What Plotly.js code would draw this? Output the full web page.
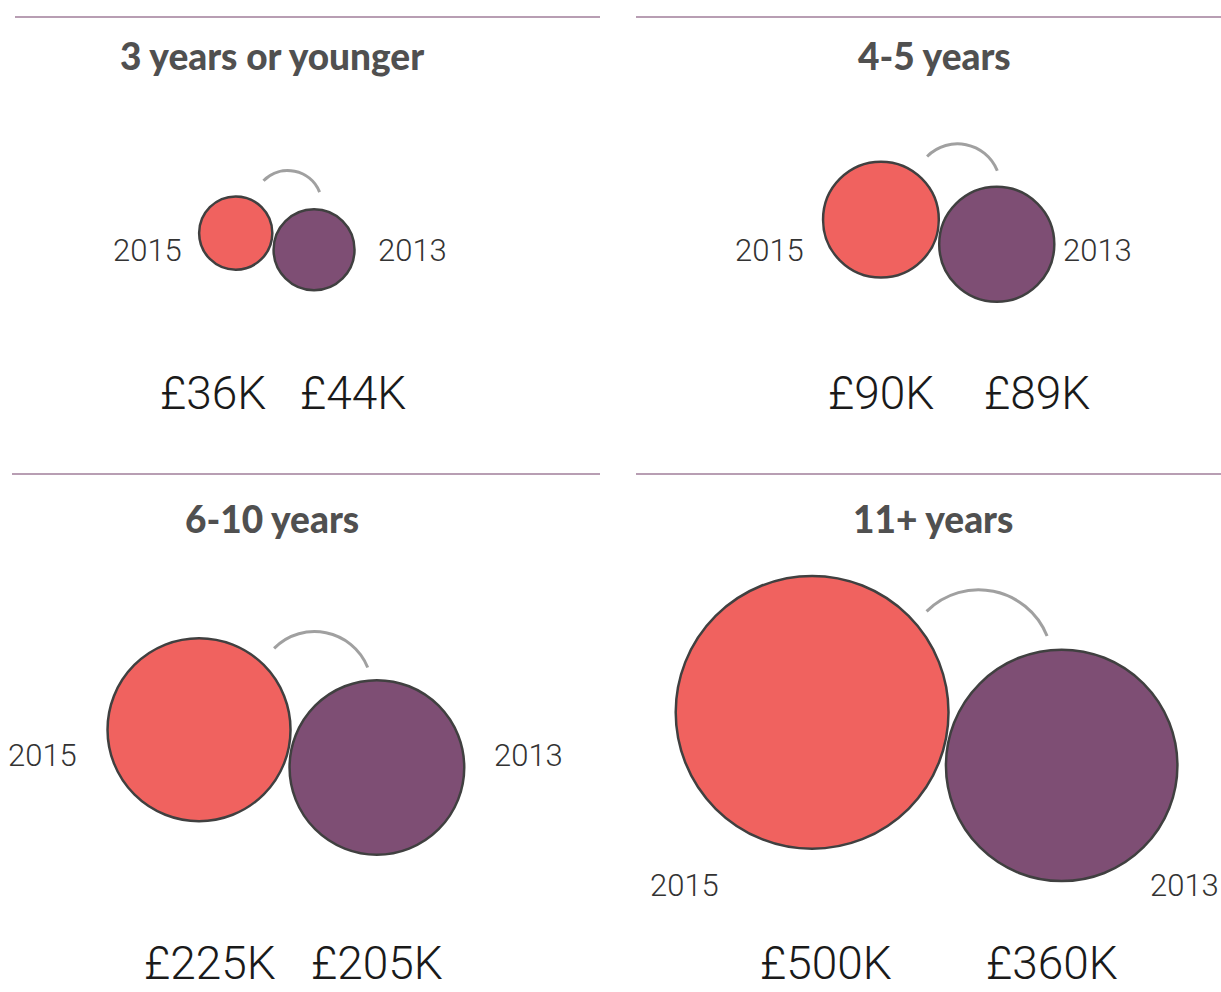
<!DOCTYPE html>
<html>
<head>
<meta charset="utf-8">
<script src="https://cdn.plot.ly/plotly-3.0.1.min.js"></script>
<style>
html,body{margin:0;padding:0;background:#ffffff;}
#chart{width:1221px;height:992px;}
</style>
</head>
<body>
<div id="chart"></div>
<script>
// ---- data ----
const groups = ['3 years or younger', '4-5 years', '6-10 years', '11+ years'];
const years = ['2015', '2013'];
const values2015 = [36, 90, 225, 500];   // £K
const values2013 = [44, 89, 205, 360];   // £K
const labels2015 = ['£36K', '£90K', '£225K', '£500K'];
const labels2013 = ['£44K', '£89K', '£205K', '£360K'];

// ---- layout (page pixel coordinates) ----
const W = 1221, H = 992;
const panels = [
  {anchor: [273, 241], title: [272, 55], yearPos: [[147, 250], [412, 250]], valuePos: [[213, 393], [353, 393]], rule: [15, 600, 17]},
  {anchor: [939, 232], title: [934, 55], yearPos: [[769, 250], [1097, 250]], valuePos: [[881, 393], [1037, 393]], rule: [636, 1221, 17]},
  {anchor: [290, 749], title: [272, 518], yearPos: [[42, 755], [528, 755]], valuePos: [[210, 963], [377, 963]], rule: [12, 600, 474]},
  {anchor: [947, 741], title: [933, 518], yearPos: [[684, 885], [1184, 885]], valuePos: [[826, 963], [1052, 963]], rule: [636, 1221, 474]}
];

const K = 6.1;                            // radius (px) per sqrt(£K)
const sizeref = 2 / Math.pow(2 * K, 2);   // area-mode marker scaling
const radius = v => K * Math.sqrt(v);
const ang = 12 * Math.PI / 180;
const dir = [Math.cos(ang), Math.sin(ang)];
const gap = 3;

const x15 = [], y15 = [], x13 = [], y13 = [];
const shapes = [];
const annotations = [];

panels.forEach((p, i) => {
  const r1 = radius(values2015[i]), r2 = radius(values2013[i]);
  const [ax, ay] = p.anchor;
  x15.push(ax - (r1 + gap / 2) * dir[0]);
  y15.push(ay - (r1 + gap / 2) * dir[1]);
  x13.push(ax + (r2 + gap / 2) * dir[0]);
  y13.push(ay + (r2 + gap / 2) * dir[1]);

  // divider rule
  shapes.push({type: 'line', xref: 'x', yref: 'y', x0: p.rule[0], x1: p.rule[1], y0: p.rule[2], y1: p.rule[2],
    line: {color: 'rgba(126,78,116,0.55)', width: 2}, layer: 'below'});

  // arc from 2015 to 2013
  const S = r1 + r2;
  const R = 17 + 0.225 * S;
  const cx = ax + 0.43 * R, cy = ay - 1.05 * R;
  const t1 = 135 * Math.PI / 180, t2 = 22 * Math.PI / 180;
  const k = 4 / 3 * Math.tan((t2 - t1) / 4);
  const P0 = [Math.cos(t1), Math.sin(t1)];
  const P3 = [Math.cos(t2), Math.sin(t2)];
  const P1 = [P0[0] - k * Math.sin(t1), P0[1] + k * Math.cos(t1)];
  const P2 = [P3[0] + k * Math.sin(t2), P3[1] - k * Math.cos(t2)];
  const m = q => (cx + R * q[0]).toFixed(1) + ',' + (cy - R * q[1]).toFixed(1);
  shapes.push({type: 'path', xref: 'x', yref: 'y',
    path: 'M' + m(P0) + ' C' + m(P1) + ' ' + m(P2) + ' ' + m(P3),
    line: {color: 'rgba(150,150,150,0.9)', width: 3}});

  // title
  annotations.push({x: p.title[0], y: p.title[1], xref: 'x', yref: 'y', text: groups[i], showarrow: false,
    xanchor: 'center', yanchor: 'middle',
    font: {family: 'Lato, "Open Sans", sans-serif', size: 37, color: '#505050', weight: 900}});
  // year labels
  years.forEach((yr, j) => {
    annotations.push({x: p.yearPos[j][0], y: p.yearPos[j][1], xref: 'x', yref: 'y', text: yr, showarrow: false,
      xanchor: 'center', yanchor: 'middle',
      font: {family: 'Roboto, "DejaVu Sans Condensed", sans-serif', size: 31, color: '#333333', weight: 300}});
  });
  // value labels
  [labels2015[i], labels2013[i]].forEach((lab, j) => {
    annotations.push({x: p.valuePos[j][0], y: p.valuePos[j][1], xref: 'x', yref: 'y', text: lab, showarrow: false,
      xanchor: 'center', yanchor: 'middle',
      font: {family: 'Roboto, "DejaVu Sans Condensed", sans-serif', size: 46, color: '#1a1a1a', weight: 300}});
  });
});

const traces = [
  {type: 'scatter', mode: 'markers', name: years[0], x: x15, y: y15,
    marker: {size: values2015, sizemode: 'area', sizeref: sizeref, color: '#F0625F',
      line: {color: '#404040', width: 2.5}, opacity: 1}},
  {type: 'scatter', mode: 'markers', name: years[1], x: x13, y: y13,
    marker: {size: values2013, sizemode: 'area', sizeref: sizeref, color: '#7E4E74',
      line: {color: '#404040', width: 2.5}, opacity: 1}}
];

const layout = {
  width: W, height: H,
  margin: {l: 0, r: 0, t: 0, b: 0},
  paper_bgcolor: '#ffffff', plot_bgcolor: '#ffffff',
  showlegend: false, hovermode: false,
  xaxis: {range: [0, W], visible: false, fixedrange: true},
  yaxis: {range: [H, 0], visible: false, fixedrange: true},
  shapes: shapes,
  annotations: annotations
};

Plotly.newPlot('chart', traces, layout, {displayModeBar: false, staticPlot: true});
</script>
</body>
</html>
